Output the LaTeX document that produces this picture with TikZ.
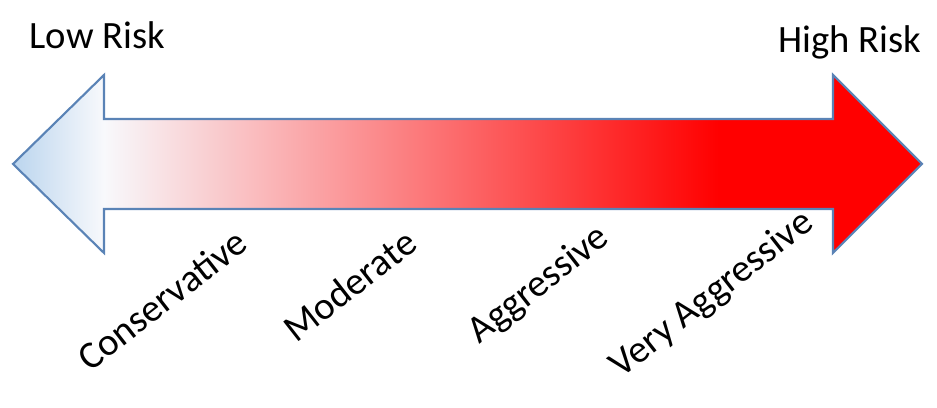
\documentclass[tikz,border=0pt]{standalone}
\usepackage{fontspec}
\setmainfont{Carlito}
\definecolor{riskblue}{HTML}{BBD5EE}
\definecolor{riskwhite}{HTML}{F8F9FC}
\definecolor{riskred}{HTML}{FF0000}
\definecolor{riskline}{HTML}{5A83B6}
\pgfdeclarehorizontalshading{riskshade}{100bp}{color(0bp)=(riskblue); color(25bp)=(riskblue);
  color(30bp)=(riskwhite); color(63.8bp)=(riskred); color(100bp)=(riskred)}
\tikzset{
  risklabel/.style={font=\fontsize{11}{13}\selectfont, inner sep=0pt},
  profile/.style={risklabel, anchor=base west, rotate=38}
}
\begin{document}
\begin{tikzpicture}
      \useasboundingbox (0,0) rectangle (9.37,4.08);

      \draw[riskline, line width=0.6pt, shading=riskshade]
        (0.13,2.44) -- (1.04,3.33) -- (1.04,2.89) -- (8.33,2.89) -- (8.33,3.33)
        -- (9.22,2.44) -- (8.33,1.55) -- (8.33,1.99) -- (1.04,1.99) -- (1.04,1.55) -- cycle;

      \node[risklabel, anchor=base west] (low) at (0.29,3.59) {Low Risk};
      \node[risklabel, anchor=base east] (high) at (9.22,3.55) {High Risk};

      \foreach \px/\py/\name/\txt in {0.90/0.35/cons/Conservative, 2.96/0.64/mod/Moderate,
          4.79/0.63/aggr/Aggressive, 6.21/0.29/vaggr/Very Aggressive} {
          \node[profile] (\name) at (\px,\py) {\txt};
        }
    \end{tikzpicture}
\end{document}
